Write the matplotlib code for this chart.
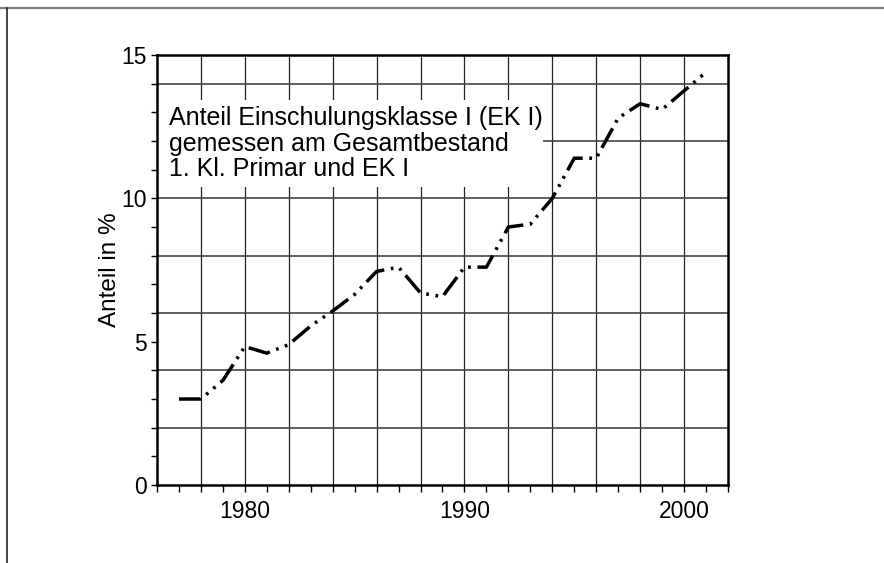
import matplotlib
matplotlib.use("Agg")
import matplotlib.pyplot as plt
from matplotlib.ticker import MultipleLocator
from matplotlib.lines import Line2D

years = list(range(1977, 2002))
anteil = [3.0, 3.0, 3.65, 4.83, 4.6, 4.9, 5.55, 6.07, 6.65, 7.45, 7.6, 6.7, 6.57,
          7.6, 7.6, 9.0, 9.1, 10.0, 11.4, 11.4, 12.8, 13.3, 13.1, 13.75, 14.4]
text_lines = ["Anteil Einschulungsklasse I (EK I)",
              "gemessen am Gesamtbestand",
              "1. Kl. Primar und EK I"]
y_label = "Anteil in %"
x_grid = list(range(1978, 2001, 2))
y_grid = list(range(2, 15, 2))

plt.rcParams['font.family'] = ['Liberation Sans', 'DejaVu Sans']

fig = plt.figure(figsize=(8.84, 5.63), dpi=100)
ax = fig.add_axes([0.1776, 0.1385, 0.8235 - 0.1776, 0.9023 - 0.1385])

for xg in x_grid:
    ax.axvline(xg, color='#222222', lw=0.9, zorder=1)
for yg in y_grid:
    ax.axhline(yg, color='#444444', lw=1.2, zorder=1)

ax.plot(years, anteil, color='black', lw=2.5, dash_capstyle='butt',
        linestyle=(0, (6.4, 1.9, 0.8, 1.9, 0.8, 1.9)), zorder=3)

ax.set_xlim(1976, 2002)
ax.set_ylim(0, 15)
ax.xaxis.set_major_locator(MultipleLocator(10))
ax.xaxis.set_minor_locator(MultipleLocator(1))
ax.yaxis.set_major_locator(MultipleLocator(5))
ax.yaxis.set_minor_locator(MultipleLocator(1))
ax.tick_params(which='both', direction='out', length=4, width=1.0, color='black',
               labelsize=16.5)
ax.tick_params(axis='x', which='both', length=5, pad=6)
for s in ax.spines.values():
    s.set_linewidth(1.8)
    s.set_color('black')
ax.set_ylabel(y_label, fontsize=17.5, labelpad=0)

# white text box
ax.add_patch(plt.Rectangle((0.0, 0.693), 0.676, 0.202, transform=ax.transAxes,
                           facecolor='white', edgecolor='none', zorder=2))
for t, yy in zip(text_lines, [0.837, 0.777, 0.718]):
    ax.text(0.021, yy, t, transform=ax.transAxes, fontsize=18, va='baseline',
            ha='left', zorder=4)

# figure border lines (top and left)
fig.add_artist(Line2D([0, 1], [1 - 8 / 563, 1 - 8 / 563], transform=fig.transFigure,
                      color='#808080', lw=1.6))
fig.add_artist(Line2D([7 / 884, 7 / 884], [0, 1 - 8 / 563], transform=fig.transFigure,
                      color='#222222', lw=1.2))

fig.savefig("out.png", dpi=100)
